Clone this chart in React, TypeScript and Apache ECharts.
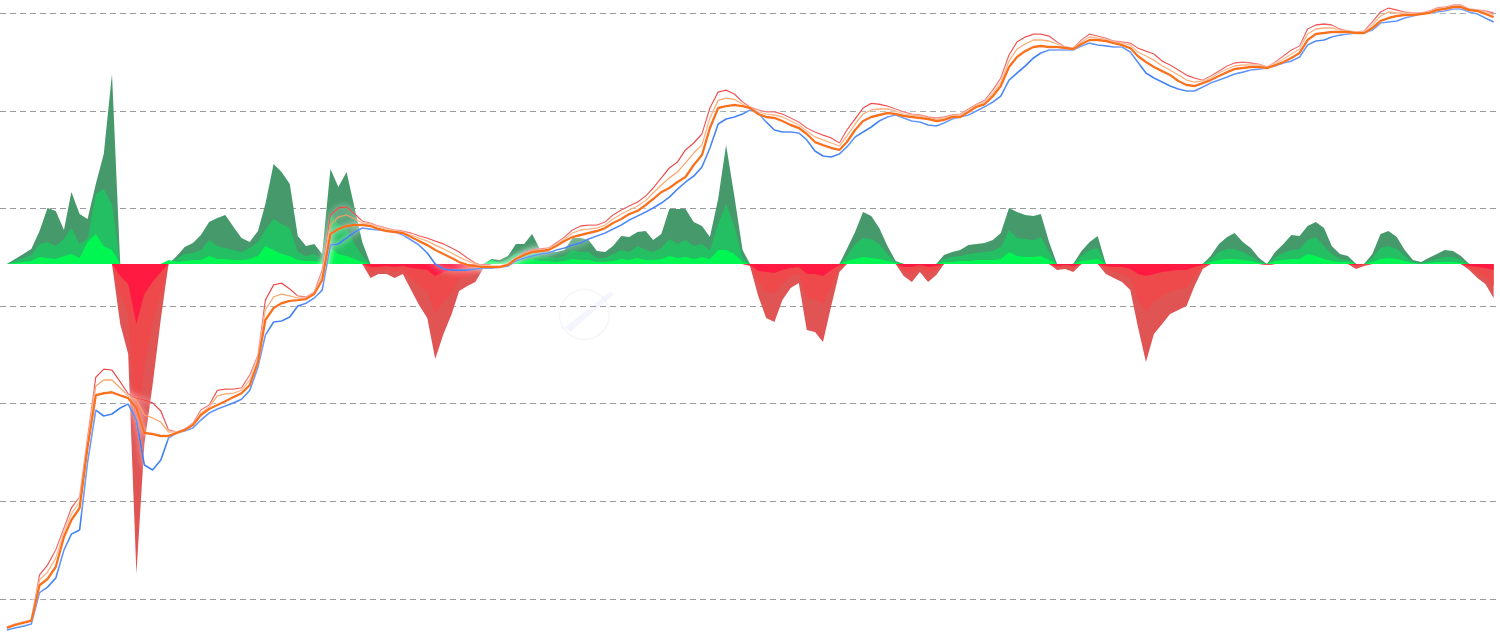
import React, { useEffect, useRef } from "react";
import * as echarts from "echarts";

// monthly sample dates (2010-07 .. 2025-11)
const dates: string[] = Array.from({ length: 185 }, (_, i) => {
  const y = 2010 + Math.floor((6 + i) / 12);
  const m = ((6 + i) % 12) + 1;
  return `${y}-${String(m).padStart(2, "0")}-01`;
});

const bluePrice = [
  0.048, 0.0504, 0.0526, 0.0553, 0.116, 0.132, 0.163, 0.317, 0.462, 0.508,
  2.52, 8.62, 7.48, 7.84, 9.03, 9.93, 6.81, 2.35, 2.09, 2.65,
  4.45, 5.01, 5.25, 5.64, 6.81, 8.03, 8.82, 9.47, 10.2, 11.1,
  13.7, 23.7, 50.5, 68.7, 70.4, 77.3, 100, 107, 121, 146,
  422, 433, 498, 574, 631, 616, 602, 588, 574, 535,
  476, 422, 350, 270, 240, 234, 234, 234, 240, 245,
  245, 251, 257, 290, 311, 326, 342, 350, 376, 394,
  422, 444, 487, 523, 561, 616, 677, 762, 838, 921,
  1012, 1137, 1310, 1580, 1868, 2150, 2660, 4170, 7340, 8260,
  8660, 9290, 10220, 9520, 7700, 6370, 6080, 6080, 5940, 5040,
  3880, 3450, 3370, 3620, 4270, 5410, 6080, 6840, 7880, 8660,
  9080, 8460, 7880, 7700, 7170, 7000, 7520, 8260, 8660, 9080,
  9980, 11000, 12330, 14150, 20720, 24430, 28830, 34860, 39260, 42060,
  42060, 42060, 42060, 46270, 49560, 47330, 46270, 45150, 45150, 40160,
  31660, 24430, 21720, 19770, 17990, 16750, 16000, 16000, 17600, 19300,
  20720, 22230, 23870, 24960, 26250, 26850, 27500, 28830, 30950, 32400,
  35660, 47330, 52000, 53240, 57150, 59880, 61320, 62790, 62790, 67400,
  79500, 81400, 83400, 89500, 93800, 98400, 100700, 103100, 105600, 110700,
  110700, 103100, 98400, 89500, 81400,
];

const orangeBand = [
  0.0504, 0.0541, 0.0567, 0.0595, 0.138, 0.16, 0.212, 0.431, 0.643, 0.854,
  3.6, 12.2, 12.8, 13.1, 12.2, 11.4, 9.03, 5.01, 4.89, 4.67,
  4.67, 5.01, 5.38, 6.05, 7.66, 8.82, 9.7, 10.6, 11.7, 12.8,
  15.5, 26.7, 72.0, 95.6, 107, 113, 115, 118, 133, 185,
  548, 616, 662, 677, 677, 662, 616, 588, 574, 561,
  510, 464, 422, 376, 342, 311, 283, 264, 257, 251,
  251, 251, 264, 304, 334, 358, 367, 376, 413, 464,
  510, 535, 561, 588, 631, 710, 780, 878, 943, 1085,
  1250, 1474, 1620, 1868, 2100, 2790, 3530, 6680, 10700, 11200,
  11500, 11200, 10700, 9290, 8660, 8460, 7880, 7170, 6680, 5800,
  4800, 4470, 4170, 3980, 4800, 6370, 7880, 8660, 9080, 9520,
  9290, 8870, 8660, 8460, 8260, 7880, 8070, 8660, 8660, 9750,
  11000, 11700, 14150, 17990, 28200, 35660, 41000, 45150, 46270, 45150,
  45150, 44080, 43060, 48460, 53240, 53240, 52000, 49560, 47330, 44080,
  36500, 31660, 28200, 25570, 23310, 20240, 18430, 17990, 19300, 20720,
  22760, 24960, 26850, 27500, 28200, 28200, 27500, 29520, 31660, 34860,
  39260, 53240, 61320, 62790, 64300, 64300, 64300, 62790, 62790, 70700,
  83400, 89500, 93800, 96100, 96100, 98400, 100700, 108100, 110700, 116000,
  116000, 108100, 105600, 98400, 91600,
];

const redBand = [
  0.0516, 0.0553, 0.058, 0.0608, 0.176, 0.222, 0.317, 0.532, 0.854, 1.11,
  4.56, 18.7, 22.6, 22.1, 16.7, 12.6, 11.4, 10.9, 10.2, 8.42,
  5.38, 5.13, 5.5, 6.34, 8.62, 9.7, 13.7, 14.1, 14.1, 14.5,
  19.6, 31.6, 115, 165, 172, 150, 127, 124, 139, 234,
  858, 1012, 1037, 878, 744, 710, 662, 631, 602, 588,
  561, 523, 498, 464, 433, 394, 358, 311, 276, 257,
  257, 257, 270, 311, 350, 376, 385, 394, 444, 510,
  602, 662, 677, 677, 727, 858, 965, 1060, 1160, 1340,
  1620, 2060, 2600, 3000, 3980, 4690, 5800, 10700, 15600, 16300,
  14900, 12330, 11000, 10220, 9750, 9750, 9290, 8460, 7700, 6680,
  6080, 5660, 5280, 4690, 6370, 8260, 10700, 11960, 11700, 11200,
  10460, 9750, 9290, 9080, 8660, 8460, 8660, 9080, 9290, 10460,
  11700, 12820, 16300, 21720, 37380, 50800, 57150, 61320, 61320, 58500,
  50800, 45150, 44080, 53240, 61320, 58500, 55800, 52000, 50800, 49560,
  44080, 41000, 38290, 32400, 29520, 26250, 23310, 21720, 20720, 22760,
  25570, 28830, 30950, 31660, 30950, 30220, 28200, 31660, 36500, 42060,
  46270, 69050, 75900, 77700, 75900, 69050, 65900, 64300, 65900, 81400,
  103100, 113300, 108100, 103100, 100700, 100700, 105600, 113300, 116000, 121600,
  121600, 110700, 108100, 105600, 100700,
];

const lightBand = [
  0.0516, 0.0553, 0.058, 0.0608, 0.156, 0.188, 0.262, 0.484, 0.741, 0.984,
  4.05, 15.2, 17.5, 17.5, 14.5, 12.0, 10.9, 7.66, 7.14, 6.49,
  5.13, 5.13, 5.5, 6.19, 8.03, 9.25, 12.0, 12.6, 12.8, 13.7,
  17.5, 29.4, 91.2, 124, 133, 127, 121, 121, 136, 208,
  677, 818, 858, 780, 710, 694, 646, 616, 588, 574,
  535, 498, 464, 422, 385, 350, 318, 290, 270, 257,
  257, 257, 270, 311, 342, 367, 376, 385, 433, 487,
  561, 602, 616, 631, 677, 780, 878, 965, 1060, 1210,
  1440, 1740, 2060, 2370, 2930, 3700, 4470, 8460, 12820, 13480,
  13150, 11700, 11000, 9750, 9290, 9080, 8660, 7880, 7170, 6230,
  5410, 5040, 4690, 4370, 5530, 7340, 9290, 10220, 10460, 10460,
  9980, 9290, 9080, 8870, 8460, 8260, 8460, 8870, 9080, 10220,
  11500, 12330, 15170, 19770, 32400, 43060, 48460, 53240, 53240, 52000,
  48460, 45150, 44080, 50800, 57150, 55800, 54500, 50800, 49560, 47330,
  40160, 36500, 33190, 28830, 26250, 23310, 20720, 19770, 20240, 21720,
  24430, 26850, 28830, 29520, 29520, 29520, 28200, 30950, 33990, 38290,
  43060, 61320, 69050, 70700, 70700, 67400, 65900, 64300, 64300, 75900,
  93800, 103100, 100700, 100700, 98400, 100700, 103100, 110700, 113300, 118800,
  118800, 108100, 108100, 103100, 96100,
];

// oscillator layers (signed)
const outerOsc = [
  0, 2.5, 5, 7.5, 16.5, 28, 26.5, 17, 36, 25,
  22.5, 40, 55, 95, -30, -45, -155, -90, -60.5, -27.5,
  0, 4, 8.5, 10.5, 14.5, 21, 23, 24.5, 18.5, 13,
  11, 16.5, 30, 50, 46, 40, 14, 9, 10, 5,
  47.5, 38.5, 46, 27.5, 11, -7, -5, -5, -7, -5,
  -13, -20.5, -27, -47.5, -35, -25, -13.5, -11, -9, -2,
  2.5, 2, 4, 10, 10, 15, 7, 6.5, 6, 7,
  13, 13, 12, 6.5, 6, 9, 14, 13.5, 16, 16.5,
  12, 15, 27.5, 27.5, 27.5, 21, 19, 13.5, 32.5, 59.5,
  34, 7, -1, -16, -27, -29, -18, -12, -9.5, -33,
  -34, -39, -21, -4, 7.5, 16, 26, 24, 18, 9,
  1.5, -6, -9, -4, -9, -5.5, 4.5, 6, 7, 9.5,
  10, 10.5, 12, 15.5, 28, 26, 24.5, 24, 25, 11,
  -3, -2.5, -4, 6.5, 11, 14, -5, -7, -9, -13,
  -31, -49, -35, -30, -25, -23, -21, -11, -2.5, 4,
  10, 13.5, 15.5, 11, 8, 3, -0.5, 6, 10, 14.5,
  14, 19, 21, 18, 9, 5, 4, -2.5, -1, 5,
  15, 16.5, 13.5, 7, 2, 1, 3, 5, 7, 6.5,
  4, -3, -7, -10, -17,
];

const middleOsc = [
  0, 1.5, 3, 4.5, 10, 11, 9, 12.5, 18, 10,
  12.5, 35, 37.5, 30, -15, -25, -90, -50, -30, -15,
  1, 2.5, 5, 5.5, 7, 12, 9, 8, 7, 6,
  8, 11, 17, 22.5, 20, 18, 6, 4, 5, 2,
  25, 20, 17.5, 10, 4, -4, -3, -3, -4, -3,
  -7, -11, -14, -25, -19, -14, -7.5, -6, -4.5, -1,
  1.5, 1, 2.5, 5.5, 5, 7, 3.5, 3.5, 3, 4,
  7, 6, 6, 3, 3, 5, 7, 6, 9, 7,
  6, 8, 12.5, 10, 12, 9, 10, 7, 20, 30,
  19, 3, -0.5, -9, -14, -15, -10, -6, -5, -17,
  -18, -20, -11, -2, 4, 10, 13, 12.5, 10, 5,
  1, -3.5, -5, -2, -5, -3, 2.5, 3.5, 4, 5,
  5.5, 6, 6.5, 8.5, 17, 13, 12.5, 12, 13.5, 6,
  -1.5, -1.5, -2, 4, 7, 8, -2.5, -3.5, -5, -7,
  -17.5, -24, -19, -16, -14, -12.5, -12, -6, -1.5, 2.5,
  6, 7.5, 7.5, 6, 4, 1.5, -0.5, 3.5, 5.5, 7,
  7.5, 12, 13.5, 9, 5, 2.5, 2, -1.5, -0.5, 3,
  8, 9, 7.5, 4, 1, 0.5, 1.5, 2.5, 3.5, 3.5,
  2, -2, -4.5, -6.5, -11,
];

const innerOsc = [
  0, 0.5, 1, 1.5, 3.5, 3, 2.5, 4, 5, 3,
  11, 15, 9, 7, -6, -10, -30, -15, -9, -4,
  2, 1, 1.5, 2, 2, 4, 2.5, 2.5, 2, 2,
  2.5, 4, 9, 7, 5, 4, 2, 1.5, 1.5, 1,
  8, 5, 4, 2.5, 1, -1.5, -1.5, -1, -1.5, -1,
  -2, -2.5, -3, -6, -4, -3, -2, -1.5, -1.5, -0.5,
  2, 0.5, 1, 2, 1.5, 2.5, 1.5, 1.5, 1, 1.5,
  2.5, 2, 2, 1, 1, 1.5, 2.5, 2, 3, 2,
  2, 2.5, 4, 3, 3.5, 2.5, 3.5, 2.5, 7, 7,
  5, 1, -0.5, -3.5, -4, -4.5, -3, -2, -1.5, -5,
  -5, -6, -3, -0.5, 1.5, 2.5, 3.5, 3, 2.5, 1.5,
  0.5, -1.5, -1.5, -0.5, -1.5, -1, 1, 1, 1.5, 1.5,
  2, 2, 2, 2.5, 6, 4, 3.5, 3.5, 4, 2,
  -1, -0.5, -1, 1.5, 2, 2.5, -1, -1.5, -1.5, -2.5,
  -5, -6, -5, -4, -3.5, -3, -3, -1.5, -0.5, 1,
  2, 2.5, 2.5, 2, 1.5, 0.5, 0, 1.5, 2, 2.5,
  2.5, 5, 4, 2.5, 1.5, 1, 1, -0.5, 0, 1,
  2.5, 3, 2.5, 1.5, 0.5, 0, 0.5, 1, 1, 1,
  0.5, -1, -1.5, -2, -3,
];

const pair = (arr: number[]) => arr.map((v, i) => [dates[i], v]);
const positive = (arr: number[]) => arr.map((v, i) => [dates[i], v > 0 ? v : 0]);
const negative = (arr: number[]) => arr.map((v, i) => [dates[i], v < 0 ? v : 0]);

const areaSeries = (name: string, data: any[], color: string) => ({
  name,
  type: "line",
  yAxisIndex: 1,
  data,
  symbol: "none",
  showSymbol: false,
  lineStyle: { width: 0 },
  areaStyle: { color, opacity: 1 },
  silent: true,
});

const lineSeries = (name: string, arr: number[], color: string, width: number, opacity = 1) => ({
  name,
  type: "line",
  yAxisIndex: 0,
  data: pair(arr),
  symbol: "none",
  showSymbol: false,
  lineStyle: {
    color,
    width,
    opacity,
    shadowColor: "rgba(255,255,255,1)",
    shadowBlur: 6,
  },
  silent: true,
});

export default function App() {
  const ref = useRef<HTMLDivElement>(null);
  useEffect(() => {
    if (!ref.current) return;
    const chart = echarts.init(ref.current, undefined, { renderer: "svg" });
    chart.setOption({
      animation: false,
      backgroundColor: "#ffffff",
      grid: { left: 0, right: 4, top: 0, bottom: 0, containLabel: false },
      xAxis: {
        type: "time",
        min: "2010-06-05",
        max: "2025-11-10",
        show: false,
      },
      yAxis: [
        {
          type: "log",
          logBase: 10,
          min: 0.04473,
          max: 136860,
          axisLine: { show: false },
          axisTick: { show: false },
          axisLabel: { show: false },
          splitLine: {
            show: true,
            showMinLine: false,
            showMaxLine: false,
            lineStyle: { color: "#9a9a9a", width: 1, type: [6, 4] },
          },
        },
        {
          type: "value",
          min: -184.5,
          max: 132,
          show: false,
          splitLine: { show: false },
        },
      ],
      graphic: [
        {
          type: "group",
          left: 557,
          top: 287,
          silent: true,
          z: 0,
          children: [
            { type: "circle", shape: { cx: 28, cy: 27, r: 25 }, style: { fill: "none", stroke: "rgba(225,225,240,0.35)", lineWidth: 1.5 } },
            { type: "polygon", shape: { points: [[8, 40], [54, 4], [57, 7], [14, 44]] }, style: { fill: "rgba(215,215,250,0.25)" } },
          ],
        },
      ],
      series: [
        areaSeries("outerPos", positive(outerOsc), "#45996a"),
        areaSeries("outerNeg", negative(outerOsc), "#e05454"),
        areaSeries("middlePos", positive(middleOsc), "#24bf62"),
        areaSeries("middleNeg", negative(middleOsc), "#ee4a4c"),
        areaSeries("innerPos", positive(innerOsc), "#00f752"),
        areaSeries("innerNeg", negative(innerOsc), "#ff1a42"),
        lineSeries("red", redBand, "#ef4444", 1.3),
        lineSeries("light", lightBand, "#fb9a4e", 1.3, 0.9),
        lineSeries("blue", bluePrice, "#3b82f6", 1.7),
        lineSeries("orange", orangeBand, "#f97316", 2.4),
      ],
    });
    return () => chart.dispose();
  }, []);
  return (
    <div
      ref={ref}
      style={{ position: "absolute", left: 0, top: 0, width: 1500, height: 633 }}
    />
  );
}
